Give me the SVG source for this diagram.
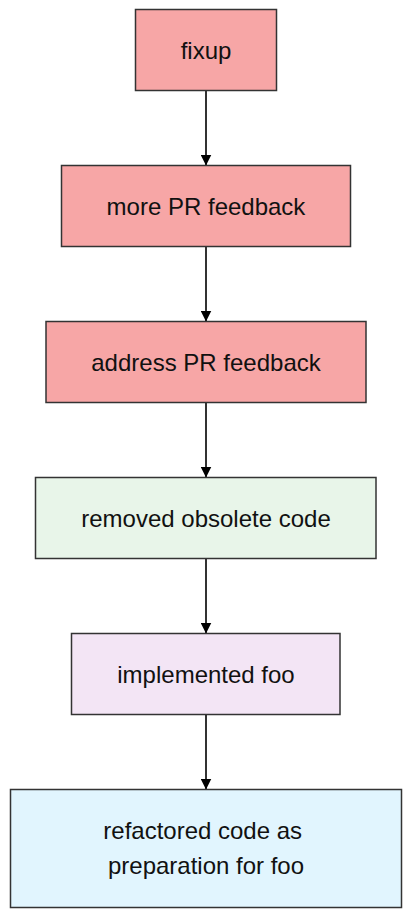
<svg xmlns="http://www.w3.org/2000/svg" width="412" height="918" viewBox="0 0 412 918">
<style>
.n rect{stroke:#333;stroke-width:1.5}
.n text{font-family:"Liberation Sans",Arial,sans-serif;font-size:24px;fill:#111;text-anchor:middle}
.pink{fill:#f7a6a6}
.green{fill:#e8f5e9}
.purple{fill:#f3e5f5}
.blue{fill:#e1f5fe}
.e line{stroke:#333;stroke-width:2}
</style>
<defs>
<marker id="ah" viewBox="0 0 11 11" refX="11" refY="5.5" markerWidth="11" markerHeight="11" markerUnits="userSpaceOnUse" orient="auto">
<path d="M0,0 L11,5.5 L0,11 Z" fill="#000"/>
</marker>
</defs>
<rect width="412" height="918" fill="#fff"/>
<g id="edges" class="e">
<line x1="206" y1="90.5" x2="206" y2="165.5" marker-end="url(#ah)"/>
<line x1="206" y1="246.5" x2="206" y2="321.5" marker-end="url(#ah)"/>
<line x1="206" y1="402.5" x2="206" y2="477.5" marker-end="url(#ah)"/>
<line x1="206" y1="558.5" x2="206" y2="633.5" marker-end="url(#ah)"/>
<line x1="206" y1="714.5" x2="206" y2="789.5" marker-end="url(#ah)"/>
</g>
<g id="fixup" class="n"><rect class="pink" x="135.5" y="9.5" width="141" height="81"/><text x="206" y="58.5">fixup</text></g>
<g id="more" class="n"><rect class="pink" x="61.5" y="165.5" width="289" height="81"/><text x="206" y="214.5">more PR feedback</text></g>
<g id="address" class="n"><rect class="pink" x="46" y="321.5" width="320" height="81"/><text x="206" y="370.5">address PR feedback</text></g>
<g id="removed" class="n"><rect class="green" x="35.5" y="477.5" width="340.5" height="81"/><text x="206" y="526.5">removed obsolete code</text></g>
<g id="implemented" class="n"><rect class="purple" x="71.5" y="633.5" width="268.5" height="81"/><text x="206" y="682.5">implemented foo</text></g>
<g id="refactored" class="n"><rect class="blue" x="10.5" y="789.5" width="391" height="118"/><text x="202.7" y="839.3">refactored code as</text><text x="206" y="874.3">preparation for foo</text></g>
</svg>
